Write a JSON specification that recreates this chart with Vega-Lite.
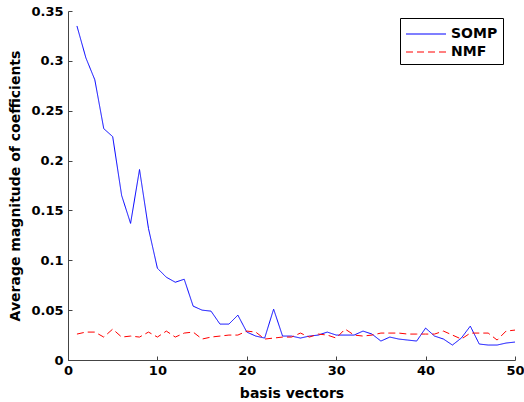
{
  "$schema": "https://vega.github.io/schema/vega-lite/v6.json",
  "width": 447,
  "height": 349,
  "autosize": "none",
  "padding": {"left": 68, "top": 11, "right": 9, "bottom": 42},
  "background": "white",
  "config": {
    "view": {"stroke": null},
    "font": "DejaVu Sans",
    "axis": {"grid": false, "domainColor": "#444", "tickColor": "#444", "labelFont": "DejaVu Sans", "labelFontWeight": "bold", "labelFontSize": 13, "labelColor": "black", "titleFont": "DejaVu Sans", "titleFontWeight": "bold", "titleFontSize": 14, "titleColor": "black"}
  },
  "data": {"values": [
    {"x":1,"value":0.335,"series":"SOMP"},{"x":2,"value":0.303,"series":"SOMP"},{"x":3,"value":0.281,"series":"SOMP"},{"x":4,"value":0.232,"series":"SOMP"},{"x":5,"value":0.224,"series":"SOMP"},
    {"x":6,"value":0.165,"series":"SOMP"},{"x":7,"value":0.137,"series":"SOMP"},{"x":8,"value":0.191,"series":"SOMP"},{"x":9,"value":0.132,"series":"SOMP"},{"x":10,"value":0.092,"series":"SOMP"},
    {"x":11,"value":0.083,"series":"SOMP"},{"x":12,"value":0.078,"series":"SOMP"},{"x":13,"value":0.081,"series":"SOMP"},{"x":14,"value":0.054,"series":"SOMP"},{"x":15,"value":0.050,"series":"SOMP"},
    {"x":16,"value":0.049,"series":"SOMP"},{"x":17,"value":0.036,"series":"SOMP"},{"x":18,"value":0.036,"series":"SOMP"},{"x":19,"value":0.045,"series":"SOMP"},{"x":20,"value":0.028,"series":"SOMP"},
    {"x":21,"value":0.024,"series":"SOMP"},{"x":22,"value":0.022,"series":"SOMP"},{"x":23,"value":0.051,"series":"SOMP"},{"x":24,"value":0.024,"series":"SOMP"},{"x":25,"value":0.024,"series":"SOMP"},
    {"x":26,"value":0.022,"series":"SOMP"},{"x":27,"value":0.024,"series":"SOMP"},{"x":28,"value":0.025,"series":"SOMP"},{"x":29,"value":0.028,"series":"SOMP"},{"x":30,"value":0.025,"series":"SOMP"},
    {"x":31,"value":0.025,"series":"SOMP"},{"x":32,"value":0.025,"series":"SOMP"},{"x":33,"value":0.029,"series":"SOMP"},{"x":34,"value":0.026,"series":"SOMP"},{"x":35,"value":0.019,"series":"SOMP"},
    {"x":36,"value":0.023,"series":"SOMP"},{"x":37,"value":0.021,"series":"SOMP"},{"x":38,"value":0.020,"series":"SOMP"},{"x":39,"value":0.019,"series":"SOMP"},{"x":40,"value":0.032,"series":"SOMP"},
    {"x":41,"value":0.024,"series":"SOMP"},{"x":42,"value":0.021,"series":"SOMP"},{"x":43,"value":0.015,"series":"SOMP"},{"x":44,"value":0.022,"series":"SOMP"},{"x":45,"value":0.034,"series":"SOMP"},
    {"x":46,"value":0.016,"series":"SOMP"},{"x":47,"value":0.015,"series":"SOMP"},{"x":48,"value":0.015,"series":"SOMP"},{"x":49,"value":0.017,"series":"SOMP"},{"x":50,"value":0.018,"series":"SOMP"},
    {"x":1,"value":0.026,"series":"NMF"},{"x":2,"value":0.028,"series":"NMF"},{"x":3,"value":0.028,"series":"NMF"},{"x":4,"value":0.023,"series":"NMF"},{"x":5,"value":0.031,"series":"NMF"},
    {"x":6,"value":0.023,"series":"NMF"},{"x":7,"value":0.024,"series":"NMF"},{"x":8,"value":0.023,"series":"NMF"},{"x":9,"value":0.028,"series":"NMF"},{"x":10,"value":0.023,"series":"NMF"},
    {"x":11,"value":0.029,"series":"NMF"},{"x":12,"value":0.023,"series":"NMF"},{"x":13,"value":0.027,"series":"NMF"},{"x":14,"value":0.028,"series":"NMF"},{"x":15,"value":0.021,"series":"NMF"},
    {"x":16,"value":0.023,"series":"NMF"},{"x":17,"value":0.024,"series":"NMF"},{"x":18,"value":0.025,"series":"NMF"},{"x":19,"value":0.025,"series":"NMF"},{"x":20,"value":0.029,"series":"NMF"},
    {"x":21,"value":0.028,"series":"NMF"},{"x":22,"value":0.021,"series":"NMF"},{"x":23,"value":0.022,"series":"NMF"},{"x":24,"value":0.023,"series":"NMF"},{"x":25,"value":0.023,"series":"NMF"},
    {"x":26,"value":0.027,"series":"NMF"},{"x":27,"value":0.023,"series":"NMF"},{"x":28,"value":0.026,"series":"NMF"},{"x":29,"value":0.025,"series":"NMF"},{"x":30,"value":0.022,"series":"NMF"},
    {"x":31,"value":0.031,"series":"NMF"},{"x":32,"value":0.025,"series":"NMF"},{"x":33,"value":0.024,"series":"NMF"},{"x":34,"value":0.025,"series":"NMF"},{"x":35,"value":0.027,"series":"NMF"},
    {"x":36,"value":0.027,"series":"NMF"},{"x":37,"value":0.027,"series":"NMF"},{"x":38,"value":0.026,"series":"NMF"},{"x":39,"value":0.026,"series":"NMF"},{"x":40,"value":0.026,"series":"NMF"},
    {"x":41,"value":0.026,"series":"NMF"},{"x":42,"value":0.029,"series":"NMF"},{"x":43,"value":0.025,"series":"NMF"},{"x":44,"value":0.021,"series":"NMF"},{"x":45,"value":0.027,"series":"NMF"},
    {"x":46,"value":0.027,"series":"NMF"},{"x":47,"value":0.027,"series":"NMF"},{"x":48,"value":0.020,"series":"NMF"},{"x":49,"value":0.029,"series":"NMF"},{"x":50,"value":0.030,"series":"NMF"}
  ]},
  "mark": {"type": "line", "strokeWidth": 1, "clip": true},
  "encoding": {
    "x": {"field": "x", "type": "quantitative", "title": "basis vectors",
      "scale": {"domain": [0, 50], "nice": false, "zero": false},
      "axis": {"values": [0,10,20,30,40,50], "tickSize": -4, "labelPadding": 8, "titlePadding": 9, "labelFlush": false}},
    "y": {"field": "value", "type": "quantitative", "title": "Average magnitude of coefficients",
      "scale": {"domain": [0, 0.35], "nice": false},
      "axis": {"values": [0,0.05,0.1,0.15,0.2,0.25,0.3,0.35], "format": "~g", "tickSize": -4, "labelPadding": 9, "titlePadding": 8}},
    "color": {"field": "series", "type": "nominal", "title": null,
      "scale": {"domain": ["SOMP", "NMF"], "range": ["#0000ff", "#ff0000"]},
      "legend": {"orient": "none", "legendX": 332, "legendY": 7, "strokeColor": "black", "fillColor": "white", "padding": 5,
        "symbolType": "M-1,0H3", "symbolSize": 400, "symbolStrokeWidth": 1.2, "labelFont": "DejaVu Sans", "labelFontWeight": "bold", "labelFontSize": 14, "labelColor": "black", "labelOffset": 24, "rowPadding": 0, "cornerRadius": 0,
        "encode": {"symbols": {"enter": {"stroke": {"signal": "scale('color', datum.value)"}}, "update": {"stroke": {"signal": "scale('color', datum.value)"}}}}}},
    "strokeDash": {"field": "series", "type": "nominal", "title": null,
      "scale": {"domain": ["SOMP", "NMF"], "range": [[1, 0], [7, 4]]}}
  }
}
